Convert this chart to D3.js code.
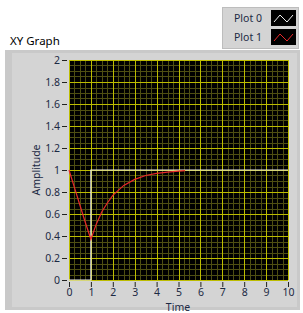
<!DOCTYPE html>
<html>
<head>
<meta charset="utf-8">
<script src="https://cdn.jsdelivr.net/npm/d3@7"></script>
<style>
  body { margin: 0; background: #fff; }
  text { font-family: "Noto Sans", "DejaVu Sans", sans-serif; }
</style>
</head>
<body>
<div class="canvas"></div>
<script>
const plotNames = ["Plot 0", "Plot 1"];
const plotColors = ["#f0f0f0", "#e8282a"];

const stepX = [0, 1, 1, 10];
const stepY = [0, 0, 1, 1];

const respX = [0, 0.25, 0.5, 0.75, 1, 1.25, 1.5, 1.75, 2, 2.5, 3, 3.5, 4, 4.5, 5, 5.3];
const respY = [1, 0.84, 0.68, 0.52, 0.37, 0.51, 0.62, 0.7, 0.77, 0.86, 0.915, 0.95, 0.97, 0.98, 0.99, 0.995];

const xTicks = [0, 1, 2, 3, 4, 5, 6, 7, 8, 9, 10];
const yTicks = [0, 0.2, 0.4, 0.6, 0.8, 1, 1.2, 1.4, 1.6, 1.8, 2];

const W = 303, H = 313;
const plot = { left: 69, right: 288, top: 60, bottom: 280 };

const svg = d3.select(".canvas").append("svg")
  .attr("width", W).attr("height", H);

// panel
svg.append("rect").attr("x", 5).attr("y", 50).attr("width", 295).attr("height", 260)
  .attr("fill", "#c9c9c9");
svg.append("rect").attr("x", 12).attr("y", 53).attr("width", 285).attr("height", 254)
  .attr("fill", "#d4d4d4");

svg.append("text").attr("x", 10).attr("y", 45)
  .attr("font-size", 11.5).attr("fill", "#000").text("XY Graph");

const x = d3.scaleLinear().domain([0, 10]).range([plot.left, plot.right]);
const y = d3.scaleLinear().domain([0, 2]).range([plot.bottom, plot.top]);

svg.append("rect")
  .attr("x", plot.left).attr("y", plot.top)
  .attr("width", plot.right - plot.left).attr("height", plot.bottom - plot.top)
  .attr("fill", "#000");

// minor grid
const minorX = d3.range(0, 10.001, 0.25).filter(v => Math.abs(v - Math.round(v)) > 1e-6);
const minorY = d3.range(0, 2.001, 0.05).filter(v => Math.abs(v * 5 - Math.round(v * 5)) > 1e-6);
const grid = svg.append("g").attr("shape-rendering", "crispEdges");
grid.selectAll(".mx").data(minorX).enter().append("line")
  .attr("x1", d => Math.round(x(d)) + 0.5).attr("x2", d => Math.round(x(d)) + 0.5)
  .attr("y1", plot.top).attr("y2", plot.bottom)
  .attr("stroke", "#4e4e12");
grid.selectAll(".my").data(minorY).enter().append("line")
  .attr("y1", d => Math.round(y(d)) + 0.5).attr("y2", d => Math.round(y(d)) + 0.5)
  .attr("x1", plot.left).attr("x2", plot.right)
  .attr("stroke", "#4e4e12");
grid.selectAll(".Mx").data(xTicks).enter().append("line")
  .attr("x1", d => Math.round(x(d)) + 0.5).attr("x2", d => Math.round(x(d)) + 0.5)
  .attr("y1", plot.top).attr("y2", plot.bottom)
  .attr("stroke", "#bcbc00");
grid.selectAll(".My").data(yTicks).enter().append("line")
  .attr("y1", d => Math.round(y(d)) + 0.5).attr("y2", d => Math.round(y(d)) + 0.5)
  .attr("x1", plot.left).attr("x2", plot.right)
  .attr("stroke", "#bcbc00");

// axes
const xAxis = svg.append("g")
  .attr("transform", `translate(0,${plot.bottom + 2})`)
  .call(d3.axisBottom(x).tickValues(xTicks).tickFormat(d3.format("d")).tickSize(5).tickPadding(2));
const yAxis = svg.append("g")
  .attr("transform", `translate(${plot.left - 2},0)`)
  .call(d3.axisLeft(y).tickValues(yTicks).tickFormat(d => d3.format("~g")(d)).tickSize(5).tickPadding(2));
[xAxis, yAxis].forEach(a => {
  a.select(".domain").remove();
  a.selectAll("line").attr("stroke", "#222");
  a.selectAll("text").attr("font-size", 10.5).attr("fill", "#1c2a44")
    .attr("font-family", "'Noto Sans', sans-serif");
});

svg.append("text").attr("x", 178).attr("y", 311)
  .attr("text-anchor", "middle").attr("font-size", 10.5).attr("fill", "#1c2a44").text("Time");
svg.append("text")
  .attr("transform", `translate(40,${(plot.top + plot.bottom) / 2}) rotate(-90)`)
  .attr("text-anchor", "middle").attr("font-size", 10.5).attr("fill", "#1c2a44").text("Amplitude");

// data lines
const line = d3.line().x(d => x(d[0])).y(d => y(d[1]));
const series = [d3.zip(stepX, stepY), d3.zip(respX, respY)];
svg.selectAll(".series").data(series).enter().append("path")
  .attr("d", line).attr("fill", "none")
  .attr("stroke", (d, i) => plotColors[i]).attr("stroke-width", 1.2);

// legend
const lg = svg.append("g");
lg.append("rect").attr("x", 222.5).attr("y", 7.5).attr("width", 76).attr("height", 41)
  .attr("fill", "#d4d4d4").attr("stroke", "#bdbdbd");
plotNames.forEach((name, i) => {
  const ry = 10 + i * 19;
  lg.append("text").attr("x", 234).attr("y", ry + 12).attr("font-size", 10.5)
    .attr("fill", "#1c2a44").text(name);
  lg.append("rect").attr("x", 271).attr("y", ry).attr("width", 25).attr("height", 16)
    .attr("fill", "#000");
  lg.append("path")
    .attr("d", `M${274},${ry + 12} L${280},${ry + 5} L${287},${ry + 12} L${293},${ry + 5}`)
    .attr("fill", "none").attr("stroke", plotColors[i]).attr("stroke-width", 1);
});
</script>
</body>
</html>
